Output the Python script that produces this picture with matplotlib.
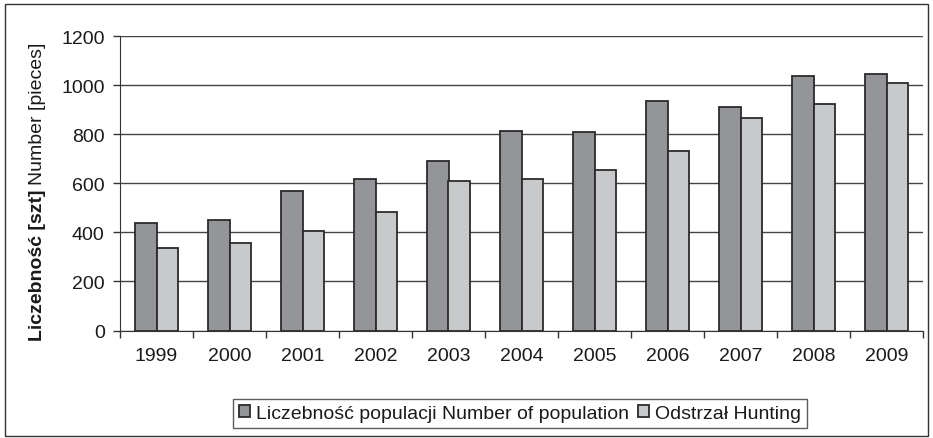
import matplotlib
matplotlib.use("Agg")
import matplotlib.pyplot as plt
import numpy as np
from matplotlib.patches import Rectangle

plt.rcParams['font.family'] = ['Liberation Sans', 'DejaVu Sans']

years = ['1999', '2000', '2001', '2002', '2003', '2004', '2005', '2006', '2007', '2008', '2009']
population = [440, 452, 567, 617, 693, 815, 809, 937, 910, 1038, 1045]
hunting = [336, 357, 407, 484, 610, 617, 655, 733, 866, 922, 1008]
series_labels = ['Liczebność populacji Number of population', 'Odstrzał Hunting']
ylabel_bold = 'Liczebność [szt]'
ylabel_normal = 'Number [pieces]'

FS = 14
W, H = 933, 439
fig = plt.figure(figsize=(W / 100, H / 100), dpi=100)
ax = fig.add_axes([120 / W, 1 - 331.5 / H, (923 - 120) / W, (331.5 - 37.3) / H])

x = np.arange(len(years))
bw = 0.29
dark = '#939598'
light = '#c8c9cb'
edge = '#2b2b2b'
ax.bar(x - bw / 2, population, bw, color=dark, edgecolor=edge, linewidth=1.3,
       label=series_labels[0], zorder=3)
ax.bar(x + bw / 2, hunting, bw, color=light, edgecolor=edge, linewidth=1.3,
       label=series_labels[1], zorder=3)

ax.set_xlim(-0.5, len(years) - 0.5)
ax.set_ylim(0, 1200)
ax.set_yticks(range(0, 1201, 200))
ax.yaxis.grid(True, color='#444444', linewidth=1.0, zorder=0)
ax.set_axisbelow(True)

ax.set_xticks(np.arange(-0.5, len(years), 1.0))
ax.set_xticklabels([])
ax.set_xticks(x, minor=True)
ax.set_xticklabels(years, minor=True, fontsize=FS, color='#1a1a1a')
ax.tick_params(axis='x', which='minor', length=0, pad=12)
ax.tick_params(axis='x', which='major', length=5, width=1, color='#333333', direction='out')
ax.tick_params(axis='y', length=5, width=1, color='#333333', direction='out', labelsize=FS,
               labelcolor='#1a1a1a', pad=6)

for s in ['top', 'right']:
    ax.spines[s].set_visible(False)
ax.spines['left'].set_color('#333333')
ax.spines['bottom'].set_color('#333333')

# y label: bold part then normal part
t1 = fig.text(38 / W, 1 - 341 / H, ylabel_bold, rotation=90, fontsize=FS, fontweight='bold',
              ha='center', va='bottom', color='#1a1a1a')
ax.annotate(ylabel_normal, xy=(0.5, 1), xycoords=t1, xytext=(0, 3), textcoords='offset points',
            rotation=90, fontsize=FS, ha='center', va='bottom', color='#1a1a1a',
            annotation_clip=False)

leg = fig.legend(loc='center', bbox_to_anchor=(520 / W, 1 - 414.5 / H), ncol=2,
                 fontsize=FS, frameon=True, fancybox=False, edgecolor='#333333',
                 handlelength=0.55, handleheight=0.55, handletextpad=0.3, columnspacing=0.5,
                 borderpad=0.3, borderaxespad=0)
leg.get_frame().set_linewidth(1.0)
for t in leg.get_texts():
    t.set_color('#1a1a1a')

fig.patches.append(Rectangle((5 / W, 2 / H), (928 - 5) / W, (434 - 2) / H,
                             transform=fig.transFigure, fill=False, edgecolor='#333333',
                             linewidth=1.0))

fig.savefig('out.png', dpi=100)
